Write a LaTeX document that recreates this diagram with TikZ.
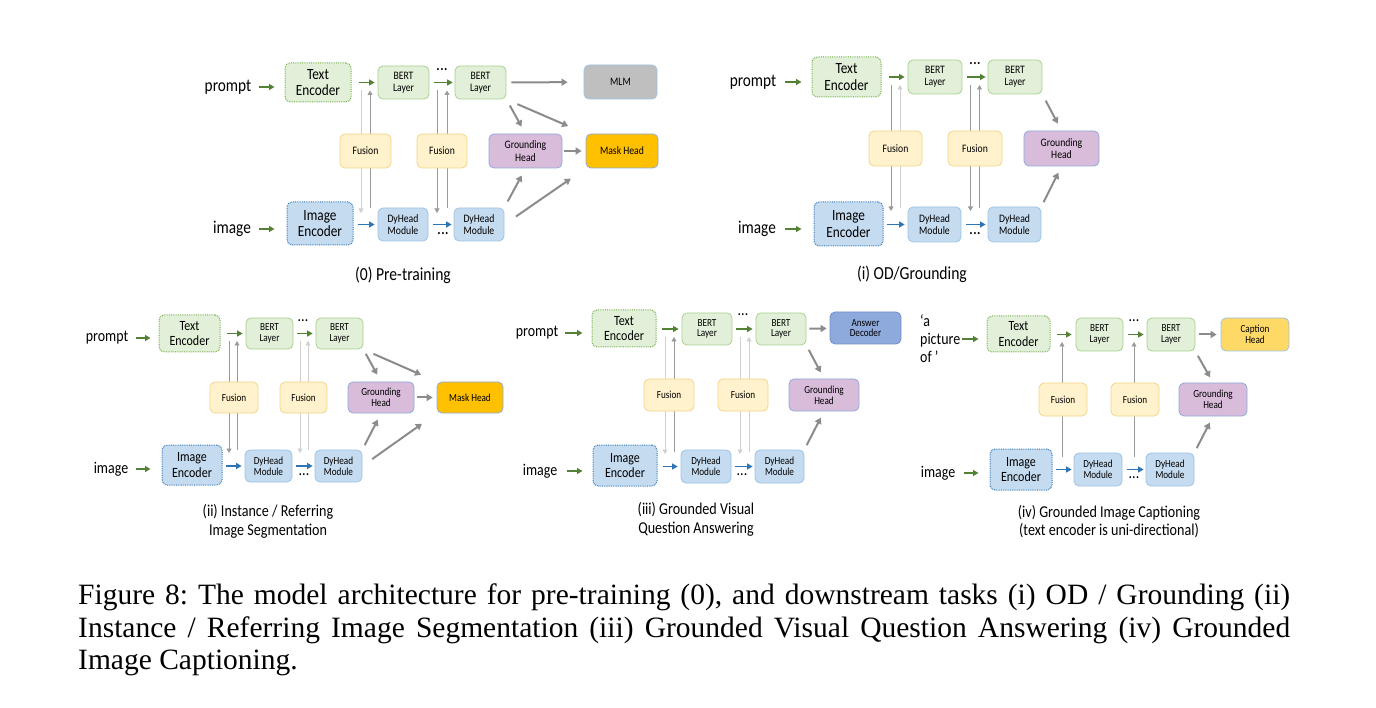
\documentclass[tikz,border=0pt]{standalone}
\usepackage{fontspec}
\newfontfamily\figsans[FakeStretch=0.85]{Carlito}
\newfontfamily\figserif{Liberation Serif}
\usetikzlibrary{arrows.meta,backgrounds}

\definecolor{txtg}{HTML}{E2F0D9}
\definecolor{encg}{HTML}{70AD47}
\definecolor{bertl}{HTML}{A9D18E}
\definecolor{imgb}{HTML}{C5DBF0}
\definecolor{encb}{HTML}{2E75B6}
\definecolor{dyl}{HTML}{9DC3E6}
\definecolor{fusf}{HTML}{FFF2CC}
\definecolor{fusl}{HTML}{F2D58A}
\definecolor{grdf}{HTML}{D9BBDA}
\definecolor{headl}{HTML}{8FAADC}
\definecolor{maskf}{HTML}{FFC000}
\definecolor{mlmf}{HTML}{BFBFBF}
\definecolor{ansf}{HTML}{8EA9DB}
\definecolor{ansl}{HTML}{6F8FCB}
\definecolor{capf}{HTML}{FFD966}
\definecolor{arrg}{HTML}{548235}
\definecolor{arrb}{HTML}{2E75B6}
\definecolor{arrgr}{HTML}{8C8C8C}
\definecolor{vdk}{HTML}{9A9A9A}
\definecolor{vlt}{HTML}{D0D0D0}

% font sizes of the top row, changed for the bottom row
\newcommand{\szsm}{11.4}\newcommand{\lnsm}{12.4}
\newcommand{\szen}{15.6}\newcommand{\lnen}{16.5}
\newcommand{\szlb}{18}\newcommand{\lnlb}{18}
\newcommand{\szcp}{18.4}\newcommand{\lncp}{18.5}

\begin{document}
\begin{tikzpicture}[x=1pt,y=-1pt,
every node/.style={inner sep=0, align=center},
wh/.style 2 args={minimum width=#1pt, minimum height=#2pt},
box/.style={rounded corners=5pt, draw, line width=0.8pt, font=\figsans\fontsize{\szsm}{\lnsm}\selectfont},
tenc/.style={box, draw=encg, fill=txtg, densely dotted, line width=1pt, font=\figsans\fontsize{\szen}{\lnen}\selectfont},
ienc/.style={box, draw=encb, fill=imgb, densely dotted, line width=1pt, font=\figsans\fontsize{\szen}{\lnen}\selectfont},
bert/.style={box, draw=bertl, fill=txtg},
dyh/.style={box, draw=dyl, fill=imgb},
fus/.style={box, draw=fusl, fill=fusf},
grd/.style={box, draw=headl, fill=grdf},
mhead/.style={box, draw=headl, fill=maskf},
mlmbox/.style={box, draw=dyl, fill=mlmf},
ansbox/.style={box, draw=ansl, fill=ansf},
caphead/.style={box, draw=dyl, fill=capf},
lbl/.style={font=\figsans\fontsize{\szlb}{\lnlb}\selectfont},
subcap/.style={font=\figsans\fontsize{\szcp}{\lncp}\selectfont},
ell/.style={font=\figsans\fontsize{\szlb}{\lnlb}\selectfont},
garr/.style={draw=arrg, line width=1.6pt, -{Triangle[length=5.5pt,width=6pt]}, shorten <=5pt, shorten >=3pt},
barr/.style={garr, draw=arrb},
harr/.style={draw=arrgr, line width=2pt, -{Triangle[length=6pt,width=7pt]}},
vline/.style={draw=#1, line width=0.9pt, -{Triangle[length=4.5pt,width=5pt]}}]
\useasboundingbox (0,0) rectangle (1376,708);
\begin{scope}[on background layer]
\fill[white] (0,0) rectangle (1376,708);
\end{scope}

% (0) Pre-training
\node[lbl] (pr0) at (228,87) {prompt};
\node[lbl] (im0) at (232,229) {image};
\node[tenc, wh={66}{39}] (te0) at (318,82.5) {Text\\Encoder};
\node[bert, wh={51}{33}] (bt01) at (403.5,82.5) {BERT\\Layer};
\node[bert, wh={51}{33}] (bt02) at (480.5,82.5) {BERT\\Layer};
\node[mlmbox, wh={73}{34}] (mlm0) at (620.5,82) {MLM};
\node[fus, wh={51}{34}] (fu01) at (365.5,151) {Fusion};
\node[fus, wh={50}{34}] (fu02) at (442,151) {Fusion};
\node[grd, wh={73}{34}] (gh0) at (525.5,151) {Grounding\\Head};
\node[mhead, wh={72}{34}] (mh0) at (622,151) {Mask Head};
\node[ienc, wh={66}{43}] (ie0) at (320,223.5) {Image\\Encoder};
\node[dyh, wh={50}{33}] (dy01) at (403,224.5) {DyHead\\Module};
\node[dyh, wh={50}{33}] (dy02) at (479,224.5) {DyHead\\Module};
\node[ell] (ua0) at (442,70) {...};
\node[ell] (da0) at (443,234) {...};
\node[subcap] (c0) at (403,275) {(0) Pre-training};
\draw[garr, shorten <=8pt, shorten >=10pt] (pr0) -- (pr0 -| te0.west);
\draw[garr, shorten <=7pt] (te0.east |- bt01) -- (bt01);
\draw[garr, shorten >=2pt] (bt01) -- (bt02);
\draw[garr, shorten <=8pt, shorten >=12pt] (im0) -- (im0 -| ie0.west);
\draw[barr, shorten <=4pt] (ie0.east |- dy01) -- (dy01);
\draw[barr, shorten >=2pt] (dy01) -- (dy02);
\draw[harr, shorten <=5pt, shorten >=16pt] (bt02) -- (mlm0);
\draw[harr, shorten <=7pt, shorten >=8pt] (bt02.south east) -- (gh0.north);
\draw[harr, shorten <=12pt, shorten >=19pt] (bt02.south east) -- (mh0.north west);
\draw[harr, shorten <=2pt, shorten >=4pt] (gh0) -- (mh0);
\draw[harr, shorten <=7pt, shorten >=8pt] (dy02.north east) -- (gh0.south);
\draw[harr, shorten <=14pt, shorten >=18pt] (dy02.east) -- (mh0.south west);
\begin{scope}[on background layer]
\draw[vline=vlt] ([shift={(-4.5,-60.5)}]fu01.center) -- ([shift={(-4.5,62)}]fu01.center);
\draw[vline=vdk] ([shift={(4.5,57)}]fu01.center) -- ([shift={(4.5,-60.5)}]fu01.center);
\draw[vline=vdk] ([shift={(-5,-60.5)}]fu02.center) -- ([shift={(-5,62)}]fu02.center);
\draw[vline=vdk] ([shift={(5,57)}]fu02.center) -- ([shift={(5,-60.5)}]fu02.center);
\end{scope}

% (i) OD/Grounding
\node[lbl] (pr1) at (753,82) {prompt};
\node[lbl] (im1) at (757,229) {image};
\node[tenc, wh={69}{40}] (te1) at (846.5,77) {Text\\Encoder};
\node[bert, wh={54}{34}] (bt11) at (935,77) {BERT\\Layer};
\node[bert, wh={54}{34}] (bt12) at (1015,77) {BERT\\Layer};
\node[fus, wh={53}{35}] (fu11) at (895.5,148.5) {Fusion};
\node[fus, wh={54}{35}] (fu12) at (975,148.5) {Fusion};
\node[grd, wh={75}{35}] (gh1) at (1061.5,148.5) {Grounding\\Head};
\node[ienc, wh={69}{44}] (ie1) at (848.5,224) {Image\\Encoder};
\node[dyh, wh={53}{35}] (dy11) at (934.5,224.5) {DyHead\\Module};
\node[dyh, wh={53}{35}] (dy12) at (1014.5,224.5) {DyHead\\Module};
\node[ell] (ua1) at (975,64) {...};
\node[ell] (da1) at (975,234) {...};
\node[subcap] (c1) at (912,274) {(i) OD/Grounding};
\draw[garr, shorten <=9pt, shorten >=10pt] (pr1) -- (pr1 -| te1.west);
\draw[garr, shorten <=7pt] (te1.east |- bt11) -- (bt11);
\draw[garr, shorten >=2pt] (bt11) -- (bt12);
\draw[garr, shorten <=9pt, shorten >=12pt] (im1) -- (im1 -| ie1.west);
\draw[barr, shorten <=3pt] (ie1.east |- dy11) -- (dy11);
\draw[barr, shorten >=2pt] (dy11) -- (dy12);
\draw[harr, shorten <=7pt, shorten >=8pt] (bt12.south east) -- (gh1.north);
\draw[harr, shorten <=5pt, shorten >=7pt] (dy12.north east) -- (gh1.south);
\begin{scope}[on background layer]
\draw[vline=vdk] ([shift={(-4.5,-63.5)}]fu11.center) -- ([shift={(-4.5,62.5)}]fu11.center);
\draw[vline=vlt] ([shift={(4.5,59.5)}]fu11.center) -- ([shift={(4.5,-63.5)}]fu11.center);
\draw[vline=vdk] ([shift={(-4.5,-63.5)}]fu12.center) -- ([shift={(-4.5,62.5)}]fu12.center);
\draw[vline=vdk] ([shift={(4.5,59.5)}]fu12.center) -- ([shift={(4.5,-63.5)}]fu12.center);
\end{scope}

% bottom row is set a little smaller
\renewcommand{\szsm}{10.8}\renewcommand{\lnsm}{10.8}
\renewcommand{\szen}{14.1}\renewcommand{\lnen}{15.7}
\renewcommand{\szlb}{16.4}\renewcommand{\lnlb}{18}
\renewcommand{\szcp}{16.6}\renewcommand{\lncp}{18.5}

% (ii) Instance / Referring Image Segmentation
\node[lbl] (pr2) at (107,338) {prompt};
\node[lbl] (im2) at (111,469) {image};
\node[tenc, wh={61}{37}] (te2) at (189.5,333.5) {Text\\Encoder};
\node[bert, wh={47}{31}] (bt21) at (269.5,333.5) {BERT\\Layer};
\node[bert, wh={47}{31}] (bt22) at (339.5,333.5) {BERT\\Layer};
\node[fus, wh={48}{31}] (fu21) at (234,397.5) {Fusion};
\node[fus, wh={47}{31}] (fu22) at (303.5,397.5) {Fusion};
\node[grd, wh={66}{31}] (gh2) at (381,397.5) {Grounding\\Head};
\node[mhead, wh={66}{31}] (mh2) at (470,397.5) {Mask Head};
\node[ienc, wh={60}{40}] (ie2) at (192,465) {Image\\Encoder};
\node[dyh, wh={47}{32}] (dy21) at (268.5,466) {DyHead\\Module};
\node[dyh, wh={47}{32}] (dy22) at (338.5,466) {DyHead\\Module};
\node[ell] (ua2) at (303,321) {...};
\node[ell] (da2) at (304,475) {...};
\node[subcap] (c2) at (268,521.5) {(ii) Instance / Referring\\Image Segmentation};
\draw[garr, shorten <=8pt, shorten >=8pt] (pr2) -- (pr2 -| te2.west);
\draw[garr, shorten <=6pt] (te2.east |- bt21) -- (bt21);
\draw[garr, shorten <=4pt] (bt21) -- (bt22);
\draw[garr, shorten <=8pt, shorten >=11pt] (im2) -- (im2 -| ie2.west);
\draw[barr, shorten <=3pt] (ie2.east |- dy21) -- (dy21);
\draw[barr, shorten <=4pt, shorten >=2pt] (dy21) -- (dy22);
\draw[harr, shorten <=5pt, shorten >=8pt] (bt22.south east) -- (gh2.north);
\draw[harr, shorten <=11pt, shorten >=17pt] (bt22.south east) -- (mh2.north west);
\draw[harr, shorten <=3pt, shorten >=4pt] (gh2) -- (mh2);
\draw[harr, shorten <=5pt, shorten >=7pt] (dy22.north east) -- (gh2.south);
\draw[harr, shorten <=12pt, shorten >=18pt] (dy22.east) -- (mh2.south west);
\begin{scope}[on background layer]
\draw[vline=vdk] ([shift={(-5,-56.5)}]fu21.center) -- ([shift={(-5,55.5)}]fu21.center);
\draw[vline=vdk] ([shift={(3,52.5)}]fu21.center) -- ([shift={(3,-56.5)}]fu21.center);
\draw[vline=vlt] ([shift={(-3.5,-56.5)}]fu22.center) -- ([shift={(-3.5,55.5)}]fu22.center);
\draw[vline=vlt] ([shift={(4.5,52.5)}]fu22.center) -- ([shift={(4.5,-56.5)}]fu22.center);
\end{scope}

% (iii) Grounded Visual Question Answering
\node[lbl] (pr3) at (537,333) {prompt};
\node[lbl] (im3) at (540,471) {image};
\node[tenc, wh={64}{37}] (te3) at (624,328.5) {Text\\Encoder};
\node[bert, wh={50}{32}] (bt31) at (707,329) {BERT\\Layer};
\node[bert, wh={50}{32}] (bt32) at (781,329) {BERT\\Layer};
\node[ansbox, wh={71}{32}] (ad3) at (865.5,328) {Answer\\Decoder};
\node[fus, wh={50}{32}] (fu31) at (669,395) {Fusion};
\node[fus, wh={50}{32}] (fu32) at (743,395) {Fusion};
\node[grd, wh={70}{32}] (gh3) at (824,395) {Grounding\\Head};
\node[ienc, wh={64}{41}] (ie3) at (625,465.5) {Image\\Encoder};
\node[dyh, wh={50}{33}] (dy31) at (706,466.5) {DyHead\\Module};
\node[dyh, wh={49}{33}] (dy32) at (779.5,466.5) {DyHead\\Module};
\node[ell] (ua3) at (743,315) {...};
\node[ell] (da3) at (742,475) {...};
\node[subcap] (c3) at (696,519.5) {(iii) Grounded Visual\\Question Answering};
\draw[garr, shorten <=7pt, shorten >=9pt] (pr3) -- (pr3 -| te3.west);
\draw[garr] (te3.east |- bt31) -- (bt31);
\draw[garr, shorten <=4pt] (bt31) -- (bt32);
\draw[garr, shorten <=10pt, shorten >=10pt] (im3) -- (im3 -| ie3.west);
\draw[barr] (ie3.east |- dy31) -- (dy31);
\draw[barr, shorten <=4pt, shorten >=2pt] (dy31) -- (dy32);
\draw[harr, shorten <=3pt, shorten >=3pt] (bt32) -- (ad3);
\draw[harr, shorten <=5pt, shorten >=7pt] (bt32.south east) -- (gh3.north);
\draw[harr, shorten <=5pt, shorten >=7pt] (dy32.north east) -- (gh3.south);
\begin{scope}[on background layer]
\draw[vline=vlt] ([shift={(-4,-58)}]fu31.center) -- ([shift={(-4,59)}]fu31.center);
\draw[vline=vdk] ([shift={(5,57)}]fu31.center) -- ([shift={(5,-58)}]fu31.center);
\draw[vline=vlt] ([shift={(-3,-58)}]fu32.center) -- ([shift={(-3,59)}]fu32.center);
\draw[vline=vlt] ([shift={(6,57)}]fu32.center) -- ([shift={(6,-58)}]fu32.center);
\end{scope}

% (iv) Grounded Image Captioning
\node[lbl, align=left, anchor=west] (pr4) at (920,339) {‘a\\picture\\of ’};
\node[lbl] (im4) at (938,473) {image};
\node[tenc, wh={63}{36}] (te4) at (1018.5,334) {Text\\Encoder};
\node[bert, wh={47}{33}] (bt41) at (1099.5,334.5) {BERT\\Layer};
\node[bert, wh={48}{33}] (bt42) at (1171,334.5) {BERT\\Layer};
\node[caphead, wh={68}{33}] (ch4) at (1255,334.5) {Caption\\Head};
\node[fus, wh={48}{33}] (fu41) at (1063,399.5) {Fusion};
\node[fus, wh={48}{33}] (fu42) at (1135,399.5) {Fusion};
\node[grd, wh={68}{33}] (gh4) at (1213,399.5) {Grounding\\Head};
\node[ienc, wh={62}{41}] (ie4) at (1021,469.5) {Image\\Encoder};
\node[dyh, wh={48}{33}] (dy41) at (1098,469.5) {DyHead\\Module};
\node[dyh, wh={48}{33}] (dy42) at (1170,469.5) {DyHead\\Module};
\node[ell] (ua4) at (1134,321) {...};
\node[ell] (da4) at (1134,478) {...};
\node[subcap] (c4) at (1109,521.5) {(iv) Grounded Image Captioning\\(text encoder is uni-directional)};
\draw[garr, shorten <=2pt, shorten >=8pt] (pr4) -- (pr4 -| te4.west);
\draw[garr, shorten <=6pt, shorten >=4pt] (te4.east |- bt41) -- (bt41);
\draw[garr] (bt41) -- (bt42);
\draw[garr, shorten <=9pt, shorten >=11pt] (im4) -- (im4 -| ie4.west);
\draw[barr, shorten <=3pt, shorten >=2pt] (ie4.east |- dy41) -- (dy41);
\draw[barr, shorten >=2pt] (dy41) -- (dy42);
\draw[harr, shorten <=4pt, shorten >=4pt] (bt42) -- (ch4);
\draw[harr, shorten <=5pt, shorten >=6pt] (bt42.south east) -- (gh4.north);
\draw[harr, shorten <=5pt, shorten >=7pt] (dy42.north east) -- (gh4.south);
\begin{scope}[on background layer]
\draw[vline=vdk] ([shift={(-1,57.5)}]fu41.center) -- ([shift={(-1,-57.5)}]fu41.center);
\draw[vline=vdk] ([shift={(-1,57.5)}]fu42.center) -- ([shift={(-1,-57.5)}]fu42.center);
\end{scope}

% caption
\node[anchor=north west, align=left, font=\figserif\fontsize{29.5}{32.5}\selectfont\frenchspacing] (fig) at (78,584)
{\makebox[1212pt][s]{Figure 8: The model architecture for pre-training (0), and downstream tasks (i) OD / Grounding (ii)}\\
\makebox[1212pt][s]{Instance / Referring Image Segmentation (iii) Grounded Visual Question Answering (iv) Grounded}\\
Image Captioning.};
\end{tikzpicture}
\end{document}
